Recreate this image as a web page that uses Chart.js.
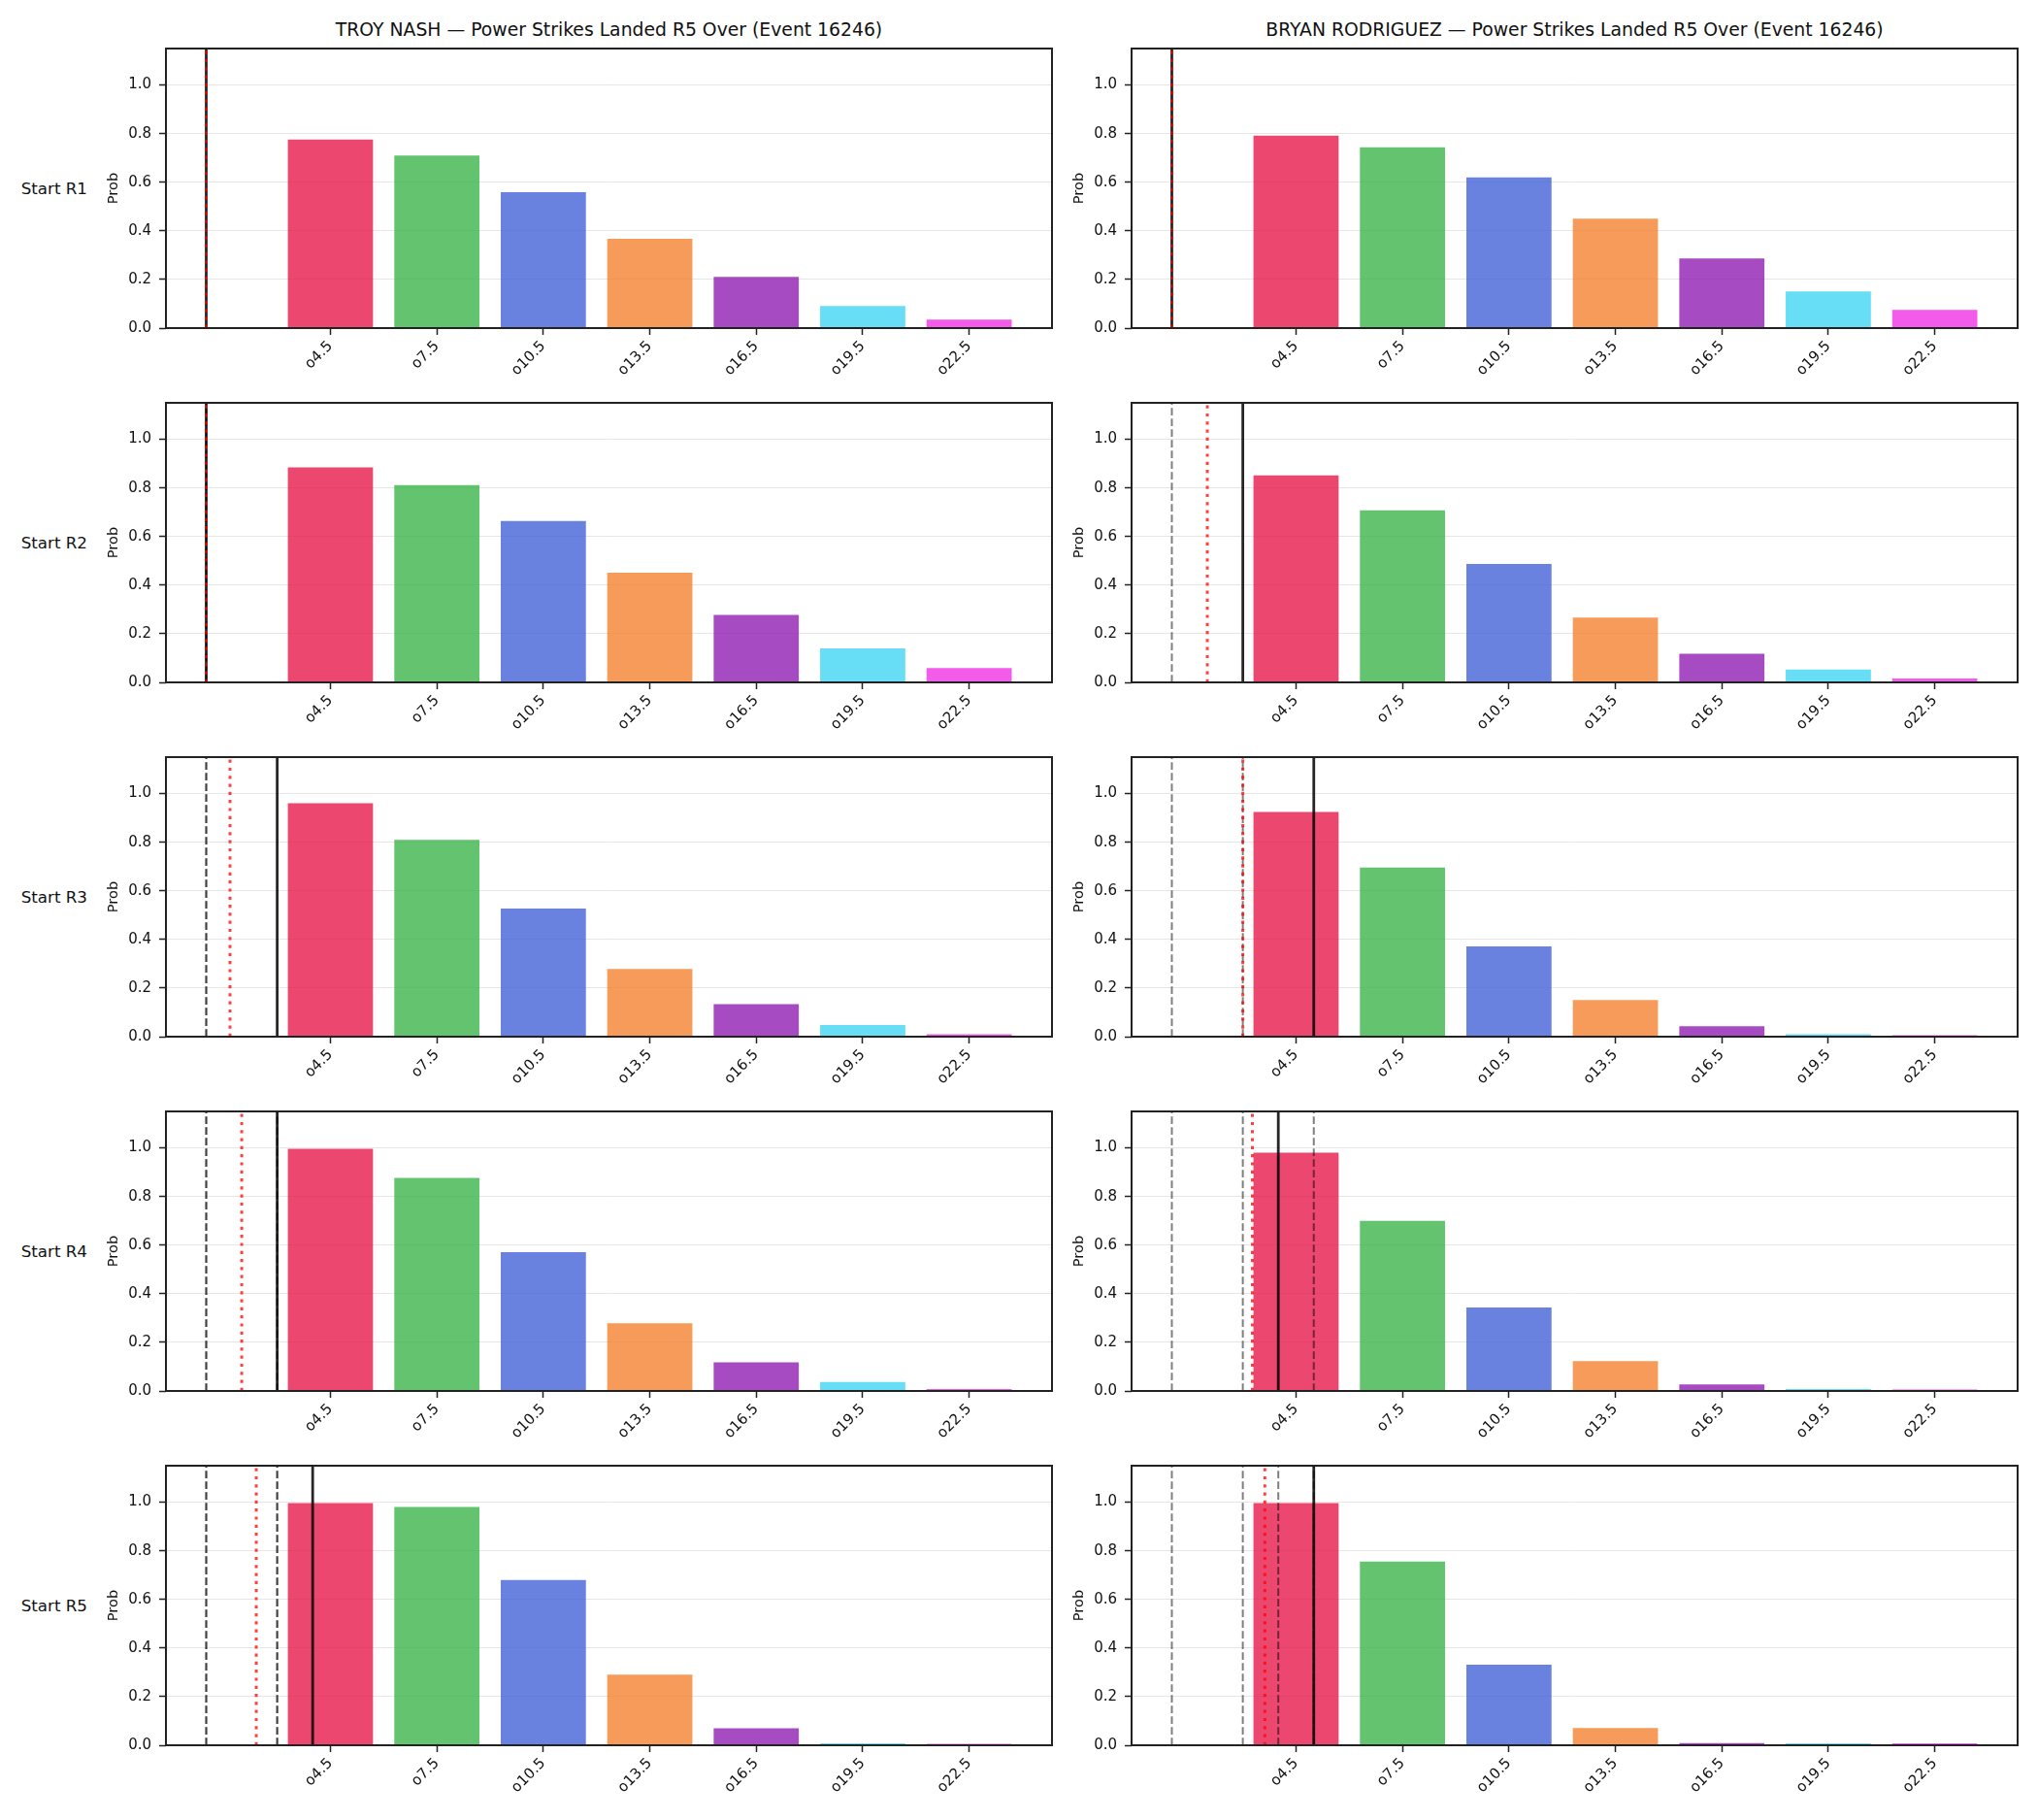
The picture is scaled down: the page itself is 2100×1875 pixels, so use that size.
<!DOCTYPE html>
<html>
<head>
<meta charset="utf-8">
<title>Power Strikes Landed R5 Over</title>
<script src="https://cdn.jsdelivr.net/npm/chart.js@4.4.1/dist/chart.umd.min.js"></script>
<style>
  body { margin: 0; background: #fff; width: 2100px; height: 1875px; position: relative; overflow: hidden; font-family: 'DejaVu Sans', sans-serif; color: #111; }
  canvas { position: absolute; }
  .ttl { position: absolute; font-size: 18.8px; line-height: 22px; text-align: center; white-space: nowrap; }
  .row { position: absolute; font-size: 16.7px; line-height: 20px; text-align: right; white-space: nowrap; }
</style>
</head>
<body>
<script>
var fighters = ['TROY NASH', 'BRYAN RODRIGUEZ'];
var titleSuffix = ' \u2014 Power Strikes Landed R5 Over (Event 16246)';
var rounds = ['Start R1', 'Start R2', 'Start R3', 'Start R4', 'Start R5'];
var strikes = [4.5, 7.5, 10.5, 13.5, 16.5, 19.5, 22.5];
var tickLabels = ['o4.5', 'o7.5', 'o10.5', 'o13.5', 'o16.5', 'o19.5', 'o22.5'];
var yTicks = [0, 0.2, 0.4, 0.6, 0.8, 1.0];

// probability of going over each line, one row per round start
var troyProbs = [
  [0.776, 0.710, 0.559, 0.367, 0.211, 0.091, 0.035],
  [0.884, 0.812, 0.664, 0.451, 0.278, 0.140, 0.059],
  [0.960, 0.810, 0.527, 0.279, 0.134, 0.048, 0.010],
  [0.996, 0.876, 0.571, 0.279, 0.118, 0.037, 0.008],
  [0.996, 0.980, 0.680, 0.290, 0.070, 0.008, 0.006]
];
var bryanProbs = [
  [0.792, 0.744, 0.620, 0.450, 0.287, 0.151, 0.075],
  [0.852, 0.708, 0.487, 0.267, 0.118, 0.053, 0.016],
  [0.924, 0.696, 0.371, 0.151, 0.043, 0.010, 0.006],
  [0.980, 0.700, 0.343, 0.123, 0.027, 0.008, 0.006],
  [0.996, 0.756, 0.331, 0.071, 0.009, 0.008, 0.008]
];
// strikes landed so far (solid) and projection (red dotted) at each round start
var troyNow = [1, 1, 3, 3, 4];
var troyProj = [1, 1, 1.67, 2.0, 2.41];
var bryanNow = [1, 3, 5, 4, 5];
var bryanProj = [1, 2, 3, 3.27, 3.62];

var barColors = ['#e6194b', '#3cb44b', '#4363d8', '#f58231', '#911eb4', '#42d4f4', '#f032e6'];

var probs = [troyProbs, bryanProbs];
var nowVals = [troyNow, bryanNow];
var projVals = [troyProj, bryanProj];

var colLeft = [171, 1166];
var rowTop = [50, 415, 780, 1145, 1510];
var W = 913, H = 288, PAD_L = 63, PAD_T = 20, PAD_R = 10, X_H = 60;
var FONT = "'DejaVu Sans', sans-serif";

function rgba(hex, a) {
  var n = parseInt(hex.slice(1), 16);
  return 'rgba(' + (n >> 16 & 255) + ',' + (n >> 8 & 255) + ',' + (n & 255) + ',' + a + ')';
}

var framePlugin = {
  id: 'frame',
  afterDraw: function (chart) {
    var a = chart.chartArea, ctx = chart.ctx;
    ctx.save();
    ctx.strokeStyle = '#222';
    ctx.lineWidth = 2;
    ctx.strokeRect(a.left, a.top, a.right - a.left, a.bottom - a.top);
    ctx.restore();
  }
};

function vline(v, color, width, dash, order) {
  return {
    type: 'line',
    data: [{x: v, y: 0}, {x: v, y: 1.15}],
    borderColor: color,
    borderWidth: width,
    borderDash: dash,
    pointRadius: 0,
    fill: false,
    order: order
  };
}

function makePanel(col, r) {
  var cv = document.createElement('canvas');
  var cw = PAD_L + W + PAD_R, ch = PAD_T + H + X_H;
  cv.width = cw; cv.height = ch;
  cv.style.width = cw + 'px'; cv.style.height = ch + 'px';
  cv.style.left = (colLeft[col] - PAD_L) + 'px';
  cv.style.top = (rowTop[r] - PAD_T) + 'px';
  document.body.appendChild(cv);

  var datasets = [{
    type: 'bar',
    data: strikes.map(function (s, i) { return {x: s, y: probs[col][r][i]}; }),
    backgroundColor: barColors.map(function (c) { return rgba(c, 0.8); }),
    borderWidth: 0,
    barPercentage: 0.8,
    categoryPercentage: 1,
    order: 10
  }];
  // earlier rounds' counts as dashed lines
  for (var k = 0; k < r; k++) {
    datasets.push(vline(nowVals[col][k], 'rgba(0,0,0,0.5)', 2, [7.7, 3.3], 3));
  }
  datasets.push(vline(nowVals[col][r], 'rgba(0,0,0,0.85)', 2.8, [], 2));
  datasets.push(vline(projVals[col][r], 'rgba(255,0,0,0.75)', 3, [3.2, 5.1], 1));

  new Chart(cv.getContext('2d'), {
    type: 'bar',
    data: {datasets: datasets},
    plugins: [framePlugin],
    options: {
      responsive: false,
      animation: false,
      devicePixelRatio: 1,
      layout: {padding: {left: 0, top: PAD_T, right: PAD_R, bottom: 0}},
      plugins: {legend: {display: false}, tooltip: {enabled: false}},
      scales: {
        x: {
          type: 'linear',
          min: -0.135,
          max: 24.835,
          offset: false,
          border: {display: false},
          grid: {offset: false, drawOnChartArea: false, tickColor: '#222', tickLength: 7, tickWidth: 1.5},
          ticks: {
            autoSkip: false, minRotation: 45, maxRotation: 45, padding: 3,
            color: '#111', font: {family: FONT, size: 15},
            callback: function (v, i) { return tickLabels[i]; }
          },
          afterBuildTicks: function (s) { s.ticks = strikes.map(function (v) { return {value: v}; }); },
          afterFit: function (s) { s.height = X_H; }
        },
        y: {
          min: 0,
          max: 1.15,
          border: {display: false},
          grid: {color: '#e6e6e6', lineWidth: 1, tickColor: '#222', tickLength: 7, tickWidth: 1.5},
          ticks: {
            padding: 8, color: '#111', font: {family: FONT, size: 15},
            callback: function (v) { return v.toFixed(1); }
          },
          title: {display: true, text: 'Prob', color: '#111', padding: 0, font: {family: FONT, size: 14.6}},
          afterBuildTicks: function (s) { s.ticks = yTicks.map(function (v) { return {value: v}; }); },
          afterFit: function (s) { s.width = PAD_L; }
        }
      }
    }
  });
}

for (var c = 0; c < 2; c++) {
  var t = document.createElement('div');
  t.className = 'ttl';
  t.textContent = fighters[c] + titleSuffix;
  t.style.left = colLeft[c] + 'px';
  t.style.width = W + 'px';
  t.style.top = '20px';
  document.body.appendChild(t);
  for (var r = 0; r < rounds.length; r++) makePanel(c, r);
}
for (var r2 = 0; r2 < rounds.length; r2++) {
  var d = document.createElement('div');
  d.className = 'row';
  d.textContent = rounds[r2];
  d.style.left = '0px';
  d.style.width = '90px';
  d.style.top = (rowTop[r2] + H / 2 - 10) + 'px';
  document.body.appendChild(d);
}
</script>
</body>
</html>
